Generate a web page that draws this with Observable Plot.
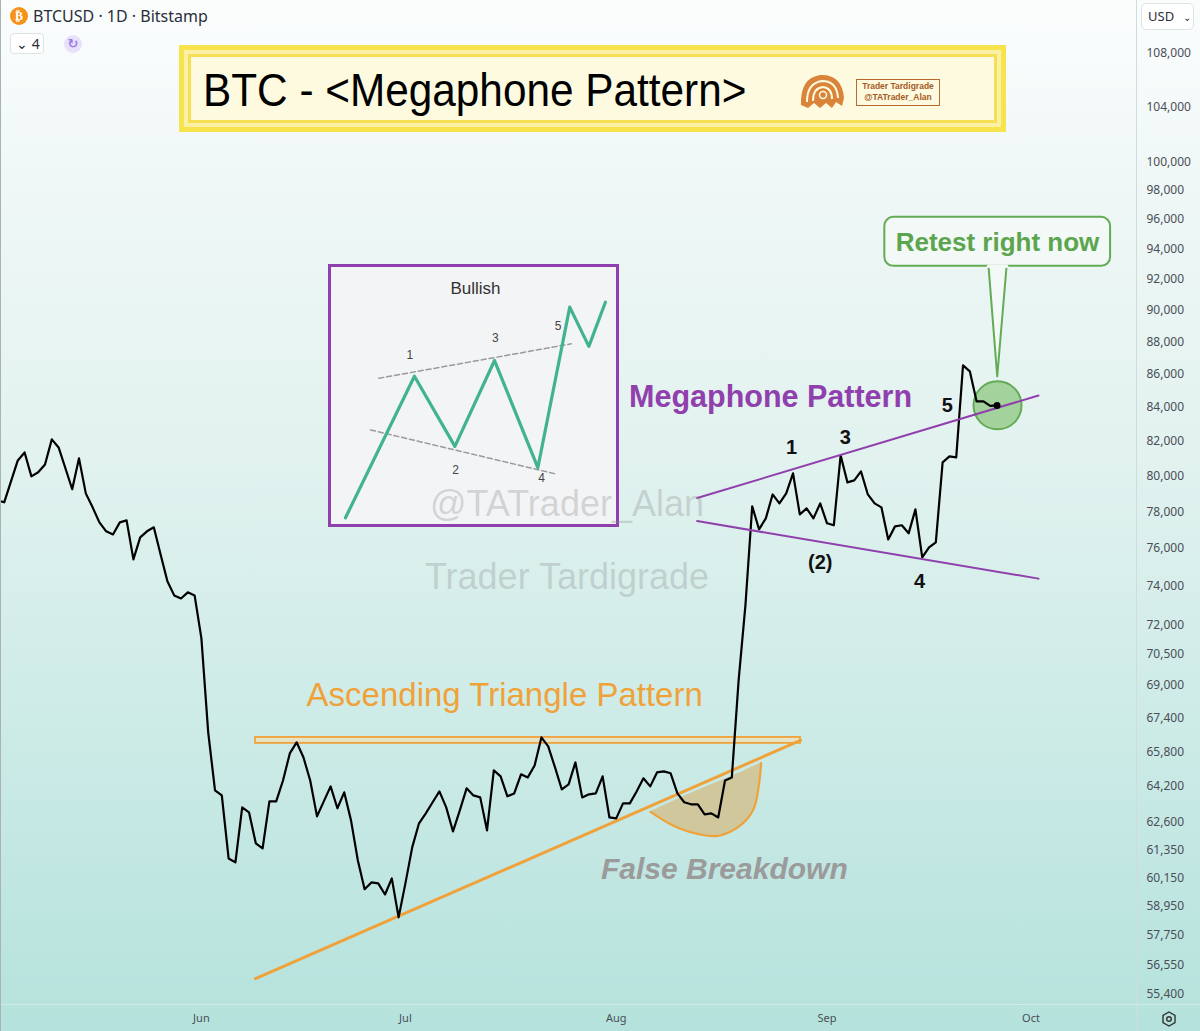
<!DOCTYPE html>
<html>
<head>
<meta charset="utf-8">
<script src="https://cdn.jsdelivr.net/npm/d3@7"></script>
<script src="https://cdn.jsdelivr.net/npm/@observablehq/plot@0.6"></script>
<style>
html,body{margin:0;padding:0;}
body{width:1200px;height:1031px;overflow:hidden;font-family:"Noto Sans",sans-serif;}
#wrap{position:relative;width:1200px;height:1031px;overflow:hidden;
  background:linear-gradient(180deg,#fbfdfd 0%,#eef7f6 20%,#e1f2ef 45%,#cdebe7 70%,#b5e2dc 100%);}
#chart{position:absolute;left:0;top:0;}
.abs{position:absolute;}
.wm{position:absolute;transform:translate(-50%,-50%);font-family:"Liberation Sans",Arial,sans-serif;font-size:36px;line-height:22px;color:rgba(140,140,140,0.32);white-space:nowrap;pointer-events:none;}
</style>
</head>
<body>
<div id="wrap">
  <div id="chart"></div>
</div>
<script>
// ---------------- DATA ----------------
const firstDate = "2024-05-02";            // first daily close shown
const closes = [
  78650, 78540, 79720, 80910, 81370, 80000, 80230, 80680, 82130, 81660,
  80460, 79270, 81030, 79040, 78260, 77430, 76940, 76770, 77430, 77540,
  75420, 76610, 76940, 77160, 75690, 74260, 73520, 73360, 73680, 73520,
  71310, 66710, 64020, 63790, 61000, 60830, 63250, 63030, 61660, 61440,
  63520, 63520, 64470, 65720, 66240, 65540, 64470, 62850, 63520, 64200,
  63210, 63930, 62670, 60920, 59680, 59970, 59930, 59460, 60140, 58500,
  59930, 61480, 62540, 62980, 63480, 63970, 63250, 62180, 63120, 64110,
  63790, 63700, 62230, 64930, 64660, 63750, 63880, 64750, 64610, 65160,
  66470, 66050, 65070, 64060, 64290, 65300, 63700, 63840, 63880, 64660,
  62800, 62760, 63430, 63430, 63970, 64570, 64200, 64840, 64890, 64800,
  63880, 63480, 63390, 63390, 62940, 62980, 62800, 64470, 64610, 69220,
  73000, 78320, 77050, 77650, 78980, 78480, 79040, 80170, 77870, 78200,
  77650, 78480, 77380, 77270, 81200, 79660, 79770, 80280, 78980, 78480,
  78260, 76500, 77210, 77270, 76830, 78150, 75530, 76070, 76340, 80800,
  81140, 81090, 86560, 86190, 84370, 84370, 84100, 84130
];
const monthTicks = ["2024-06-01", "2024-07-01", "2024-08-01", "2024-09-01", "2024-10-01"];
const priceTicks = [108000, 104000, 100000, 98000, 96000, 94000, 92000, 90000, 88000, 86000,
  84000, 82000, 80000, 78000, 76000, 74000, 72000, 70500, 69000, 67400, 65800, 64200,
  62600, 61350, 60150, 58950, 57750, 56550, 55400];

// annotation anchors: d = days after 2024-05-03, p = price
const megaphoneUpper = [{d: 101.9, p: 78780}, {d: 152.1, p: 84730}];
const megaphoneLower = [{d: 101.9, p: 77500}, {d: 152.1, p: 74400}];
const triangleSupport = [{d: 36.96, p: 56010}, {d: 117.1, p: 66330}];
const resistanceBand = [{d1: 36.96, d2: 117.1, p1: 66190, p2: 66470}];
const falseBreakdown = [
  {d: 95.04, top: 63050, bot: 63050},
  {d: 97.99, top: 63470, bot: 62500},
  {d: 100.93, top: 63880, bot: 62150},
  {d: 104.84, top: 64390, bot: 61980},
  {d: 108.3, top: 64840, bot: 62460},
  {d: 110.2, top: 65120, bot: 63180},
  {d: 111.0, top: 65230, bot: 64300},
  {d: 111.3, top: 65270, bot: 65270}
];
const waveLabels = [
  {d: 115.8, p: 81660, t: "1"},
  {d: 123.7, p: 82245, t: "3"},
  {d: 120.0, p: 75263, t: "(2)"},
  {d: 134.6, p: 74255, t: "4"},
  {d: 138.7, p: 84134, t: "5"}
];
const retest = {d: 146.07, p: 84134};
const callout = [{d1: 129.5, d2: 162.7, p1: 92857, p2: 96144}];
const pointer = [{d: 144.75, p: 92857}, {d: 146.03, p: 85884}, {d: 147.4, p: 92857}];

// inset (schematic) in its own 0..100 units
const insetWave = [
  {u: 4.9, v: 2.6}, {u: 29.1, v: 57.7}, {u: 43.3, v: 30.4}, {u: 57.2, v: 63.8},
  {u: 72.4, v: 22.1}, {u: 83.6, v: 84.6}, {u: 90.3, v: 69.3}, {u: 96.1, v: 86.5}
];
const insetUpper = [{u: 16.6, v: 56.9}, {u: 84.1, v: 70.3}];
const insetLower = [{u: 13.7, v: 36.8}, {u: 78.6, v: 19.7}];
const insetLabels = [
  {u: 27.5, v: 65.8, t: "1"}, {u: 43.5, v: 21.0, t: "2"}, {u: 57.5, v: 72.5, t: "3"},
  {u: 73.7, v: 18.0, t: "4"}, {u: 79.5, v: 77.2, t: "5"}
];

// ---------------- BUILD ----------------
const D0 = Date.UTC(2024, 4, 3);
const day = d => new Date(D0 + d * 864e5);
const t0 = Date.parse(firstDate);
const series = closes.map((c, i) => ({date: new Date(t0 + i * 864e5), close: c}));
const last = series[series.length - 1];

const sans = "Liberation Sans, Arial, sans-serif";
const purple = "#9040ad";
const orange = "#f0a23a";
const green = "#64ab55";

const chart = Plot.plot({
  width: 1200,
  height: 1031,
  marginLeft: 0,
  marginRight: 64,
  marginTop: 0,
  marginBottom: 27,
  style: {background: "transparent", fontFamily: "Noto Sans, sans-serif", fontSize: "12px", color: "#4a4e57"},
  x: {type: "utc", domain: [day(-0.5441), day(166.51)], ticks: monthTicks.map(s => new Date(s)),
      tickFormat: d3.utcFormat("%b"), tickSize: 0, tickPadding: 10, label: null},
  y: {type: "log", domain: [54993, 112140], ticks: priceTicks, tickFormat: d3.format(","),
      tickSize: 0, tickPadding: 10, label: null, axis: "right"},
  marks: [
    // false breakdown crescent
    Plot.areaY(falseBreakdown, {x: r => day(r.d), y1: "top", y2: "bot", curve: "catmull-rom",
      fill: "#d2bf8a", fillOpacity: 0.8}),
    Plot.line(falseBreakdown, {x: r => day(r.d), y: "bot", curve: "catmull-rom", stroke: orange, strokeWidth: 2.2}),
    // ascending triangle
    Plot.rect(resistanceBand, {x1: r => day(r.d1), x2: r => day(r.d2), y1: "p1", y2: "p2",
      fill: "#e7e3c6", stroke: orange, strokeWidth: 1.8}),
    Plot.line(triangleSupport, {x: r => day(r.d), y: "p", stroke: orange, strokeWidth: 3}),
    // retest circle
    Plot.dot([retest], {x: r => day(r.d), y: "p", r: 24, fill: "#78bd66", fillOpacity: 0.6,
      stroke: green, strokeWidth: 2}),
    // price
    Plot.line(series, {x: "date", y: "close", stroke: "#000", strokeWidth: 2.2, clip: true}),
    // megaphone
    Plot.line(megaphoneUpper, {x: r => day(r.d), y: "p", stroke: purple, strokeWidth: 2}),
    Plot.line(megaphoneLower, {x: r => day(r.d), y: "p", stroke: purple, strokeWidth: 2}),
    Plot.dot([last], {x: "date", y: "close", r: 3.5, fill: "#000"}),
    // callout
    Plot.rect(callout, {x1: r => day(r.d1), x2: r => day(r.d2), y1: "p1", y2: "p2", rx: 9,
      fill: "#f2f9f6", stroke: green, strokeWidth: 2}),
    Plot.line(pointer, {x: r => day(r.d), y: "p", fill: "#f2f9f6", stroke: green, strokeWidth: 2}),
    Plot.line([pointer[0], pointer[2]], {x: r => day(r.d), y: "p", stroke: "#f2f9f6", strokeWidth: 3.5,
      insetLeft: 2, insetRight: 2}),
    Plot.text(["Retest right now"], {x: day(146.07), y: 94453, text: d => d, fontFamily: sans,
      fontWeight: "bold", fontSize: 26, fill: "#5ca54e"}),
    // labels
    Plot.text(["Megaphone Pattern"], {x: day(112.7), y: 84614, text: d => d, fontFamily: sans,
      fontWeight: "bold", fontSize: 30.5, fill: purple}),
    Plot.text(waveLabels, {x: r => day(r.d), y: "p", text: "t", fontFamily: sans, fontWeight: "bold",
      fontSize: 20, fill: "#111"}),
    Plot.text(["Ascending Triangle Pattern"], {x: day(73.6), y: 68484, text: d => d, fontFamily: sans,
      fontSize: 33, fill: orange}),
    Plot.text(["False Breakdown"], {x: day(105.9), y: 60528, text: d => d, fontFamily: sans,
      fontWeight: "bold", fontStyle: "italic", fontSize: 30, fill: "#9b9b9b"})
  ]
});
document.getElementById("chart").appendChild(chart);
chart.querySelectorAll('[aria-label="x-axis"] text, [aria-label="x-axis tick label"] text').forEach(t => t.setAttribute("font-size", "11"));

const wrap = document.getElementById("wrap");
function add(html) { wrap.insertAdjacentHTML("beforeend", html); }

// separators
add('<div class="abs" style="left:1136px;top:0;width:1px;height:1031px;background:#cfdcdb"></div>');
add('<div class="abs" style="left:0;top:1004px;width:1200px;height:1px;background:#d3ece8"></div>');
add('<div class="abs" style="left:0;top:0;width:1px;height:1031px;background:#a9b3b3"></div>');

// header
add('<div class="abs" style="left:10px;top:7px;width:18px;height:18px;border-radius:50%;background:#f7931a;color:#fff;font:bold 12px/18px \'DejaVu Sans\';text-align:center">₿</div>');
add('<div class="abs" style="left:33px;top:4px;font:16px/24px \'Noto Sans\';color:#2a2e39">BTCUSD · 1D · Bitstamp</div>');
add('<div class="abs" style="left:10px;top:33px;width:34px;height:21px;box-sizing:border-box;border:1px solid #dfe3e6;border-radius:4px;background:#fff;font:14px/19px \'Noto Sans\';color:#2a2e39;padding-left:5px">⌄&nbsp;4</div>');
add('<div class="abs" style="left:64px;top:35px;width:18px;height:18px;border-radius:50%;background:#e9e0fb;color:#9b7ee3;font:bold 13px/18px \'DejaVu Sans\';text-align:center">↻</div>');
add('<div class="abs" style="left:1141px;top:3px;width:53px;height:27px;box-sizing:border-box;border:1px solid #dfe3e6;border-radius:5px;background:#fff;font:13px/25px \'Noto Sans\';color:#2a2e39;padding-left:6px">USD <span style="font-size:10px;margin-left:5px">⌄</span></div>');
add('<svg class="abs" style="left:1161px;top:1011px" width="16" height="16" viewBox="0 0 16 16"><polygon points="8,1 14,4.5 14,11.5 8,15 2,11.5 2,4.5" fill="none" stroke="#333" stroke-width="1.4"/><circle cx="8" cy="8" r="2.3" fill="none" stroke="#333" stroke-width="1.4"/></svg>');

// title box
add('<div class="abs" style="left:179px;top:45px;width:827px;height:87px;box-sizing:border-box;background:#f7e44c;padding:5px">' +
  '<div style="width:100%;height:100%;box-sizing:border-box;background:#fbf0a4;padding:4px">' +
  '<div style="width:100%;height:100%;box-sizing:border-box;border:3px solid #f5df55;background:#fefadf;position:relative">' +
  '<span style="position:absolute;left:12px;top:10px;font:46px/46px \'Liberation Sans\',Arial;color:#000;white-space:nowrap;display:inline-block;transform:scaleX(0.92);transform-origin:left">BTC - &lt;Megaphone Pattern&gt;</span>' +
  '<svg style="position:absolute;left:607px;top:15px" width="48" height="38" viewBox="0 0 48 38">' +
  '<path d="M3 33 Q2 6 22 3 Q44 2 46 26 L44 34 L38 30 L34 36 L28 31 L22 36 L16 31 L10 36 Z" fill="#d98438"/>' +
  '<path d="M9 30 Q9 11 24 9 Q39 9 40 26" fill="none" stroke="#fefadf" stroke-width="2"/>' +
  '<path d="M15 29 Q15 16 25 15 Q34 16 34 27" fill="none" stroke="#fefadf" stroke-width="2"/>' +
  '<circle cx="25" cy="23" r="3.5" fill="none" stroke="#fefadf" stroke-width="1.6"/></svg>' +
  '<div style="position:absolute;left:665px;top:22px;width:84px;height:27px;box-sizing:border-box;border:1.5px solid #b9692d;font:bold 8.5px/11px \'Liberation Sans\',Arial;color:#a65a24;text-align:center;padding-top:1px">Trader Tardigrade<br>@TATrader_Alan</div>' +
  '</div></div></div>');

// inset schematic
const inset = Plot.plot({
  width: 285, height: 257, margin: 0,
  style: {background: "transparent"},
  x: {domain: [0, 100], axis: null},
  y: {domain: [0, 100], axis: null},
  marks: [
    Plot.line(insetUpper, {x: "u", y: "v", stroke: "#9a9a9a", strokeWidth: 1.5, strokeDasharray: "5,3"}),
    Plot.line(insetLower, {x: "u", y: "v", stroke: "#9a9a9a", strokeWidth: 1.5, strokeDasharray: "5,3"}),
    Plot.line(insetWave, {x: "u", y: "v", stroke: "#41b38e", strokeWidth: 3.2}),
    Plot.text(insetLabels, {x: "u", y: "v", text: "t", fontSize: 12, fill: "#444", fontFamily: sans}),
    Plot.text(["Bullish"], {x: 50.5, y: 91.8, text: d => d, fontSize: 17, fill: "#333", fontFamily: sans})
  ]
});
const box = document.createElement("div");
box.className = "abs";
box.style.cssText = "left:328px;top:264px;width:291px;height:263px;box-sizing:border-box;border:3px solid #8f3fae;background:#f3f4f5";
box.appendChild(inset);
wrap.appendChild(box);

// watermarks
add('<div class="wm" style="left:567px;top:504px">@TATrader_Alan</div>');
add('<div class="wm" style="left:567px;top:577px">Trader Tardigrade</div>');
</script>
</body>
</html>
